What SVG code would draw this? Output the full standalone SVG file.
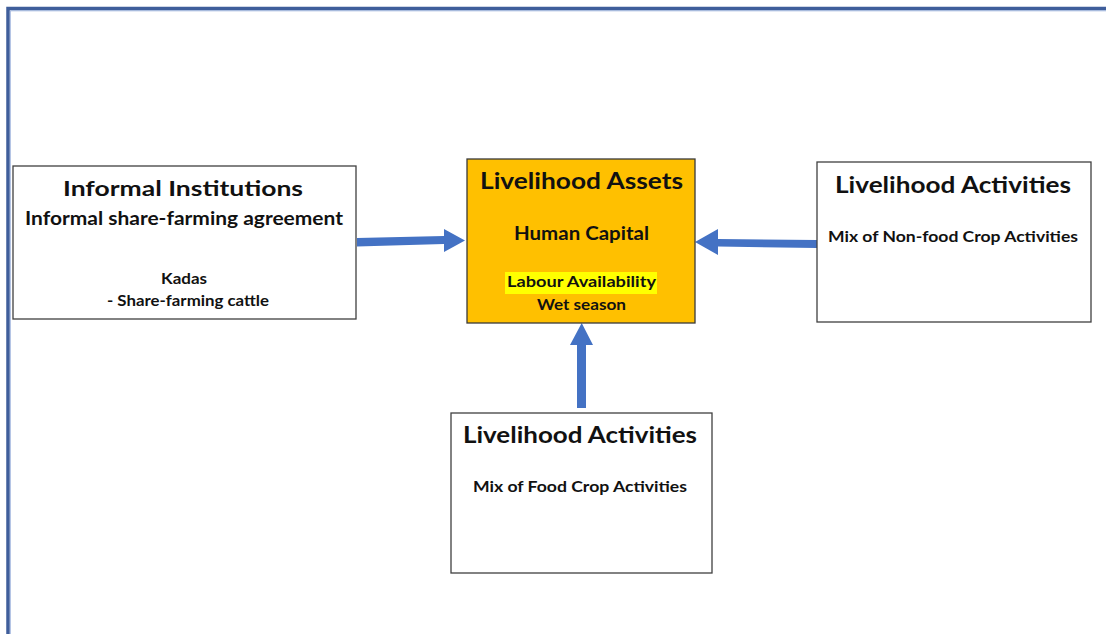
<svg xmlns="http://www.w3.org/2000/svg" width="1106" height="634" viewBox="0 0 1106 634">
  <style>
    .box { fill: #ffffff; stroke: #404040; stroke-width: 1.3; }
    .core { fill: #ffc000; stroke: #3a3a3a; stroke-width: 1.3; }
    .arrow { fill: #4472c4; }
    text { font-family: "Lato", "Liberation Sans", sans-serif; font-weight: 700; fill: #111111; text-anchor: middle; }
    .t1 { font-size: 21px; }
    .t2 { font-size: 18px; }
    .t3 { font-size: 15px; }
  </style>

  <rect x="0" y="0" width="1106" height="634" fill="#ffffff"/>

  <!-- page frame -->
  <g id="frame" fill="none">
    <path d="M8 634 V8.5 H1106" stroke="#3f5e9b" stroke-width="3.5"/>
    <path d="M10.3 634 V10.8 H1106" stroke="#8aa4d6" stroke-width="0.8"/>
  </g>

  <!-- connectors: block arrows into the assets box -->
  <g id="connectors">
    <polygon class="arrow" points="357,238 444,236 444,229 465,240.5 444,252 444,244 357,246.5"/>
    <polygon class="arrow" points="817,240 718,239 718,229 695,242 718,255 718,246.5 817,248"/>
    <polygon class="arrow" points="577,408 577,345 570,345 581.7,323 593,345 586,345 586,408"/>
  </g>

  <g id="informal-institutions">
    <rect class="box" x="13" y="166" width="343" height="153"/>
    <text class="t1" x="183" y="196" textLength="240" lengthAdjust="spacingAndGlyphs">Informal Institutions</text>
    <text class="t2" x="184" y="225" textLength="318" lengthAdjust="spacingAndGlyphs">Informal share-farming agreement</text>
    <text class="t3" x="184" y="284" textLength="46" lengthAdjust="spacingAndGlyphs">Kadas</text>
    <text class="t3" x="188" y="306" textLength="162" lengthAdjust="spacingAndGlyphs">- Share-farming cattle</text>
  </g>

  <g id="livelihood-assets">
    <rect class="core" x="467" y="159" width="228" height="164"/>
    <text class="t1" x="581.5" y="189" style="font-size:22px" textLength="203" lengthAdjust="spacingAndGlyphs">Livelihood Assets</text>
    <text class="t2" x="581.5" y="240" textLength="135" lengthAdjust="spacingAndGlyphs">Human Capital</text>
    <rect x="505" y="272" width="152" height="22" fill="#ffff00"/>
    <text class="t3" x="581.5" y="287" textLength="149" lengthAdjust="spacingAndGlyphs">Labour Availability</text>
    <text class="t3" x="581.5" y="310" textLength="89" lengthAdjust="spacingAndGlyphs">Wet season</text>
  </g>

  <g id="non-food-activities">
    <rect class="box" x="817" y="162" width="274" height="160"/>
    <text class="t1" x="953" y="193" style="font-size:22px" textLength="236" lengthAdjust="spacingAndGlyphs">Livelihood Activities</text>
    <text class="t3" x="953" y="242" textLength="250" lengthAdjust="spacingAndGlyphs">Mix of Non-food Crop Activities</text>
  </g>

  <g id="food-activities">
    <rect class="box" x="451" y="413" width="261" height="160"/>
    <text class="t1" x="580" y="443" style="font-size:22px" textLength="234" lengthAdjust="spacingAndGlyphs">Livelihood Activities</text>
    <text class="t3" x="580" y="492" textLength="214" lengthAdjust="spacingAndGlyphs">Mix of Food Crop Activities</text>
  </g>
</svg>
